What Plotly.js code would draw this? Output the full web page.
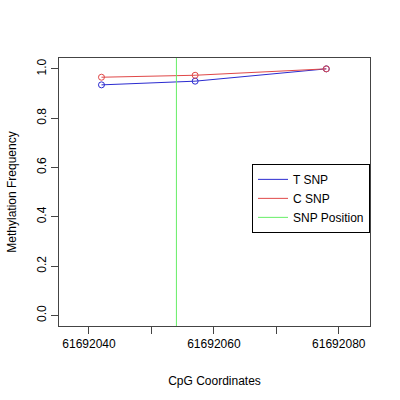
<!DOCTYPE html>
<html>
<head>
<meta charset="utf-8">
<script src="https://cdn.plot.ly/plotly-3.0.1.min.js"></script>
<style>
  html, body { margin: 0; padding: 0; background: #fff; }
  #gd { width: 400px; height: 400px; }
</style>
</head>
<body>
<div id="gd"></div>
<script>
// CpG positions and methylation frequencies
const cpgPos = [61692042, 61692057, 61692078];
const tSnp = [0.935, 0.950, 1.0];
const cSnp = [0.966, 0.974, 1.0];
const snpPos = 61692054;

const xTickVals = [61692040, 61692050, 61692060, 61692070, 61692080];
const xTickText = ['61692040', '', '61692060', '', '61692080'];
const yTickVals = [0, 0.2, 0.4, 0.6, 0.8, 1.0];
const xRange = [61692035.2, 61692085.0];
const yRange = [-0.043, 1.044];

const blue = '#2b2bd0';
const red = '#e04848';
const green = '#66ee66';

const gd = document.getElementById('gd');
const font = 'Liberation Sans, Arial, sans-serif';

const data = [
  // lines carry the legend entries, markers drawn separately (legend shows lines only)
  { x: cpgPos, y: tSnp, type: 'scatter', mode: 'lines', name: 'T SNP',
    line: { color: blue, width: 1 } },
  { x: cpgPos, y: cSnp, type: 'scatter', mode: 'lines', name: 'C SNP',
    line: { color: red, width: 1 } },
  { x: [snpPos, snpPos], y: yRange, type: 'scatter', mode: 'lines', name: 'SNP Position',
    line: { color: green, width: 1 } },
  { x: cpgPos, y: tSnp, type: 'scatter', mode: 'markers', showlegend: false,
    marker: { symbol: 'circle-open', size: 6, color: blue, line: { width: 1 } } },
  { x: cpgPos, y: cSnp, type: 'scatter', mode: 'markers', showlegend: false,
    marker: { symbol: 'circle-open', size: 6, color: red, line: { width: 1 } } }
];

const layout = {
  width: 400, height: 400,
  paper_bgcolor: '#fff', plot_bgcolor: '#fff',
  font: { family: font, size: 12, color: '#000' },
  margin: { l: 59, r: 30, t: 58, b: 74 },
  showlegend: true,
  xaxis: {
    range: xRange,
    tickvals: xTickVals, ticktext: xTickText,
    ticks: 'outside', ticklen: 7, tickcolor: '#444',
    showgrid: false, zeroline: false,
    showline: true, mirror: true, linecolor: '#444', linewidth: 1,
    tickfont: { size: 12 },
    title: { text: 'CpG Coordinates', font: { size: 12 }, standoff: 26 }
  },
  yaxis: {
    range: yRange,
    tickvals: yTickVals, tickformat: '.1f', tickangle: -90,
    ticks: 'outside', ticklen: 7, tickcolor: '#444',
    showgrid: false, zeroline: false,
    showline: true, mirror: true, linecolor: '#444', linewidth: 1,
    tickfont: { size: 12 },
    title: { text: 'Methylation Frequency', font: { size: 12 }, standoff: 16 }
  },
  legend: {
    x: 1, xanchor: 'right', y: 0.605, yanchor: 'top',
    bordercolor: '#000', borderwidth: 1, bgcolor: '#fff',
    font: { size: 12 }, tracegroupgap: 0, itemwidth: 30
  }
};

Plotly.newPlot(gd, data, layout, { displayModeBar: false, staticPlot: true });
</script>
</body>
</html>
